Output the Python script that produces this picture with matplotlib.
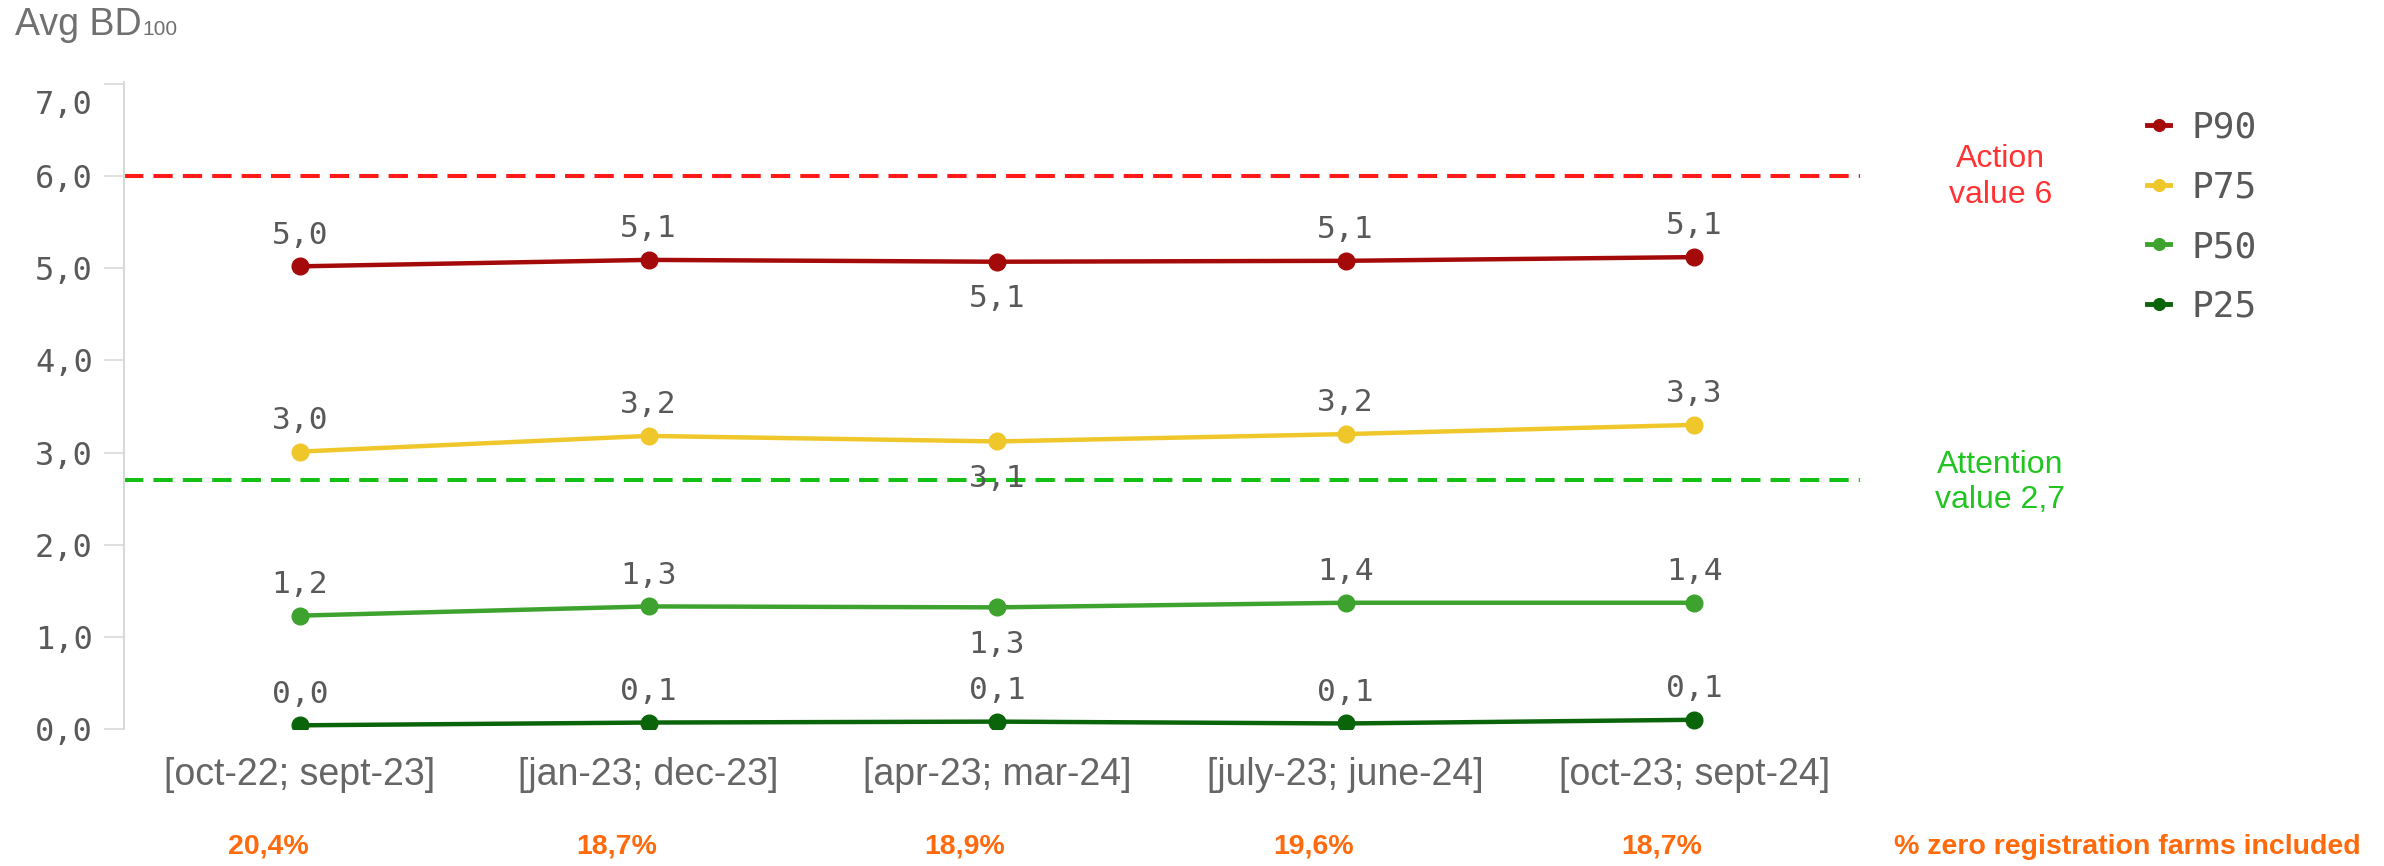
import matplotlib.pyplot as plt
from matplotlib.transforms import ScaledTranslation

periods = ["[oct-22; sept-23]", "[jan-23; dec-23]", "[apr-23; mar-24]",
           "[july-23; june-24]", "[oct-23; sept-24]"]
p90 = [5.02, 5.09, 5.07, 5.08, 5.12]
p75 = [3.01, 3.18, 3.12, 3.20, 3.30]
p50 = [1.23, 1.33, 1.32, 1.37, 1.37]
p25 = [0.04, 0.07, 0.08, 0.06, 0.10]
zero_share = ["20,4%", "18,7%", "18,9%", "19,6%", "18,7%"]
action_value = 6
attention_value = 2.7

series = [("P90", p90, "#a50a0a"), ("P75", p75, "#efc72b"),
          ("P50", p50, "#3ea22f"), ("P25", p25, "#0a640a")]
# labels drawn under the point for these (series, index) pairs
below = {("P90", 2), ("P75", 2), ("P50", 2)}

mono = "DejaVu Sans Mono"
narrow = ["Liberation Sans Narrow", "Liberation Sans", "DejaVu Sans"]
sans = ["Liberation Sans", "DejaVu Sans"]
grey = "#595959"
orange = "#ff6a0d"

fig = plt.figure(figsize=(23.84, 8.66), dpi=100)
ax = fig.add_axes([0.052, 0.1582, 0.7282, 0.7471])
x = list(range(len(periods)))

ax.axhline(action_value, color="#ff1a1a", lw=2.9, ls=(0, (4.8, 2.5)), zorder=1)
ax.axhline(attention_value, color="#14c014", lw=2.9, ls=(0, (4.8, 2.5)), zorder=1)

for name, vals, col in series:
    ax.plot(x, vals, "-o", color=col, lw=3.2, ms=12, label=name, zorder=3)
    for i, v in enumerate(vals):
        txt = f"{v:.1f}".replace(".", ",")
        if (name, i) in below:
            ax.annotate(txt, (i, v), xytext=(0, -16), textcoords="offset points",
                        ha="center", va="top", fontsize=22.5, color=grey, family=mono)
        else:
            ax.annotate(txt, (i, v), xytext=(0, 12), textcoords="offset points",
                        ha="center", va="bottom", fontsize=22.5, color=grey, family=mono)

ax.set_xlim(-0.505, 4.476)
ax.set_ylim(0, 7.02)
ax.set_yticks(range(8))
ax.set_yticklabels([f"{t},0" for t in range(8)], family=mono, fontsize=23, color=grey)
ax.set_xticks(x)
ax.set_xticklabels(periods, family=narrow, fontsize=27, color="#666666")
ax.tick_params(axis="y", length=14.5, width=1.2, color="#d9d9d9", pad=8)
ax.tick_params(axis="x", length=0, pad=20)
# top label sits a bit lower, inside the axis
top_lab = ax.get_yticklabels()[-1]
top_lab.set_transform(top_lab.get_transform() + ScaledTranslation(0, -13 / 72, fig.dpi_scale_trans))
for s in ["top", "right", "bottom"]:
    ax.spines[s].set_visible(False)
ax.spines["left"].set_color("#d9d9d9")
ax.spines["left"].set_linewidth(1.5)

# threshold labels
fig.text(0.839, 0.7956, "Action\nvalue 6", ha="center", va="center",
         fontsize=23, color="#ff3333", family=sans, linespacing=1.25)
fig.text(0.839, 0.4428, "Attention\nvalue 2,7", ha="center", va="center",
         fontsize=23, color="#22c422", family=sans, linespacing=1.2)

leg = fig.legend(loc="upper left", bbox_to_anchor=(0.9006, 0.872), frameon=False,
                 prop={"family": mono, "size": 26}, labelcolor=grey, markerscale=0.7,
                 handlelength=0.64, handletextpad=0.6, labelspacing=0.71,
                 borderpad=0, borderaxespad=0)
for h in leg.legend_handles:
    h.set_linewidth(3.5)

# share of zero-registration farms under each period (slightly left of the category)
for i, s in enumerate(zero_share):
    ax.annotate(s, (i, 0.022), xycoords=("data", "figure fraction"), xytext=(-23, 0),
                textcoords="offset points", ha="center", va="center", fontsize=20.5,
                fontweight="bold", color=orange, family=narrow, annotation_clip=False)
fig.text(0.990, 0.022, "% zero registration farms included", ha="right", va="center",
         fontsize=20.5, fontweight="bold", color=orange, family=narrow)

title = fig.text(0.0063, 0.9596, "Avg BD", ha="left", va="baseline", fontsize=27,
                 color="#707070", family=sans)
ax.annotate("100", xy=(1, 0), xycoords=title, xytext=(0.5, 3), textcoords="offset points",
            ha="left", va="bottom", fontsize=15, color="#707070", family=sans)

fig.savefig("out.png", dpi=100)
